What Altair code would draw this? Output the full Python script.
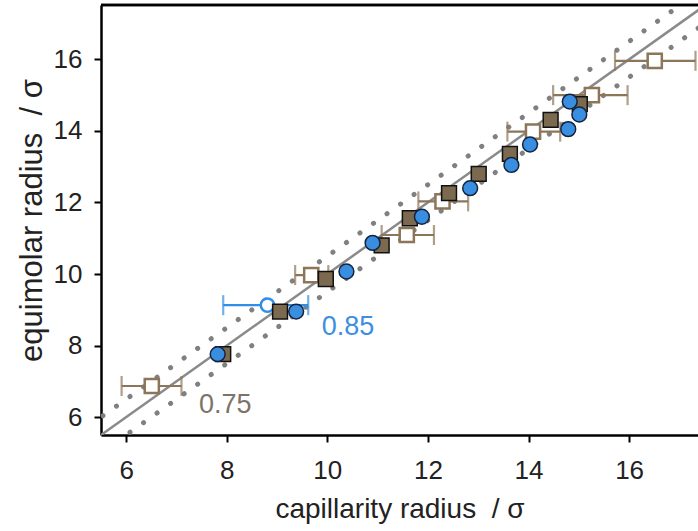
import altair as alt
import pandas as pd

# ---- data ----
# filled squares (0.75, filled)
sq_x = [7.93, 9.06, 9.97, 11.08, 11.64, 12.42, 13.01, 13.63, 14.44, 15.02]
sq_y = [7.76, 8.95, 9.86, 10.80, 11.56, 12.26, 12.80, 13.36, 14.31, 14.75]

# blue filled circles (0.85)
ci_x = [7.82, 9.38, 10.38, 10.90, 11.88, 12.84, 13.66, 14.03, 14.79, 14.82, 15.01]
ci_y = [7.76, 8.95, 10.07, 10.87, 11.60, 12.40, 13.05, 13.62, 14.05, 14.82, 14.46]

# open squares with horizontal error bars (0.75)
osq_x = [6.51, 9.68, 11.58, 12.29, 14.09, 15.26, 16.51]
osq_y = [6.87, 9.97, 11.09, 12.03, 13.98, 15.00, 15.96]
osq_lo = [5.91, 9.36, 11.08, 11.81, 13.58, 14.49, 15.72]
osq_hi = [7.10, 10.02, 12.12, 12.80, 14.63, 15.97, 17.32]

# open blue circle with horizontal error bar (0.85)
oci_x = [8.81]
oci_y = [9.13]
oci_lo = [7.93]
oci_hi = [9.62]

# reference lines: y = x and y = x +/- 0.5
line_x = [5.0, 18.0]
line_y = [5.0, 18.0]
upper_y = [5.5, 18.5]
lower_y = [4.5, 17.5]

# annotations
lab_text = ["0.85", "0.75"]
lab_x = [10.41, 7.97]
lab_y = [8.52, 6.34]
lab_color = ["#3d8fe0", "#7c7468"]

x_ticks = [6, 8, 10, 12, 14, 16]
y_ticks = [6, 8, 10, 12, 14, 16]
X_DOM = [5.5, 17.37]
Y_DOM = [5.5, 17.52]

FONT = "Liberation Sans"
NB = "\u00a0"

xs = alt.Scale(domain=X_DOM, nice=False, zero=False)
ys = alt.Scale(domain=Y_DOM, nice=False, zero=False)

x_axis = alt.Axis(values=x_ticks, title=f"capillarity radius{NB}{NB}/{NB}σ", grid=False,
                  tickSize=7, tickWidth=2, tickColor="black",
                  domainWidth=2.5, domainColor="black",
                  labelFontSize=26, labelFont=FONT, labelColor="#222222",
                  labelPadding=15, titleFontSize=28, titleFont=FONT,
                  titleFontWeight="normal", titleColor="#222222", titlePadding=12)
y_axis = alt.Axis(values=y_ticks, title=f"equimolar radius{NB}{NB}/{NB}σ", grid=False,
                  tickSize=7, tickWidth=2, tickColor="black",
                  domainWidth=2.5, domainColor="black",
                  labelFontSize=26, labelFont=FONT, labelColor="#222222",
                  labelPadding=12, titleFontSize=31, titleFont=FONT,
                  titleFontWeight="normal", titleColor="#222222", titlePadding=5)

lines_df = pd.DataFrame({"x": line_x, "y": line_y, "yu": upper_y, "yl": lower_y})

solid = alt.Chart(lines_df).mark_line(color="#8a8a8a", strokeWidth=2.5, clip=True).encode(
    x=alt.X("x:Q", scale=xs, axis=x_axis), y=alt.Y("y:Q", scale=ys, axis=y_axis))
upper = alt.Chart(lines_df).mark_line(color="#808080", strokeWidth=5, strokeDash=[0.1, 16.5],
                                      strokeCap="round", clip=True).encode(
    x=alt.X("x:Q", scale=xs), y=alt.Y("yu:Q", scale=ys))
lower = alt.Chart(lines_df).mark_line(color="#808080", strokeWidth=5, strokeDash=[0.1, 16.5],
                                      strokeCap="round", clip=True).encode(
    x=alt.X("x:Q", scale=xs), y=alt.Y("yl:Q", scale=ys))

osq_df = pd.DataFrame({"x": osq_x, "y": osq_y, "lo": osq_lo, "hi": osq_hi})
oci_df = pd.DataFrame({"x": oci_x, "y": oci_y, "lo": oci_lo, "hi": oci_hi})
sq_df = pd.DataFrame({"x": sq_x, "y": sq_y})
ci_df = pd.DataFrame({"x": ci_x, "y": ci_y})
lab_df = pd.DataFrame({"t": lab_text, "x": lab_x, "y": lab_y, "c": lab_color})

BROWN = "#8c7558"
BLUE_EB = "#2f8fe8"

def errbars(df, color):
    bar = alt.Chart(df).mark_rule(color=color, strokeWidth=2.2).encode(
        x=alt.X("lo:Q", scale=xs), x2="hi:Q", y=alt.Y("y:Q", scale=ys))
    cap_lo = alt.Chart(df).mark_tick(color=color, thickness=2.2, size=20, orient="vertical").encode(
        x=alt.X("lo:Q", scale=xs), y=alt.Y("y:Q", scale=ys))
    cap_hi = alt.Chart(df).mark_tick(color=color, thickness=2.2, size=20, orient="vertical").encode(
        x=alt.X("hi:Q", scale=xs), y=alt.Y("y:Q", scale=ys))
    return bar + cap_lo + cap_hi

osq_pts = alt.Chart(osq_df).mark_point(shape="square", filled=True, fill="white", stroke=BROWN,
                                       strokeWidth=2.5, size=200, opacity=1).encode(
    x=alt.X("x:Q", scale=xs), y=alt.Y("y:Q", scale=ys))
oci_pts = alt.Chart(oci_df).mark_point(shape="circle", filled=True, fill="white", stroke=BLUE_EB,
                                       strokeWidth=2.5, size=180, opacity=1).encode(
    x=alt.X("x:Q", scale=xs), y=alt.Y("y:Q", scale=ys))
sq_pts = alt.Chart(sq_df).mark_point(shape="square", filled=True, fill="#7b6a50", stroke="#111111",
                                     strokeWidth=1.5, size=220, opacity=1).encode(
    x=alt.X("x:Q", scale=xs), y=alt.Y("y:Q", scale=ys))
ci_pts = alt.Chart(ci_df).mark_point(shape="circle", filled=True, fill="#3a8ee0", stroke="#14233f",
                                     strokeWidth=1.5, size=220, opacity=1).encode(
    x=alt.X("x:Q", scale=xs), y=alt.Y("y:Q", scale=ys))

labels = alt.Chart(lab_df).mark_text(font=FONT, fontSize=27, align="center", baseline="middle").encode(
    x=alt.X("x:Q", scale=xs), y=alt.Y("y:Q", scale=ys), text="t:N",
    color=alt.Color("c:N", scale=None))

top_border = alt.Chart(lines_df).mark_rule(color="black", strokeWidth=2.5).encode(
    x=alt.value(0), x2=alt.value(597), y=alt.value(0))

chart = alt.layer(
    upper, lower, solid,
    errbars(osq_df, BROWN), osq_pts,
    errbars(oci_df, BLUE_EB), oci_pts,
    sq_pts, ci_pts, labels, top_border,
).properties(
    width=597, height=430,
    padding={"left": 101, "top": 5, "right": 0, "bottom": 96},
    autosize=alt.AutoSizeParams(type="none"),
    background="white",
).configure_view(stroke=None)

chart.save("out.html", embed_options={"renderer": "svg", "actions": False})
